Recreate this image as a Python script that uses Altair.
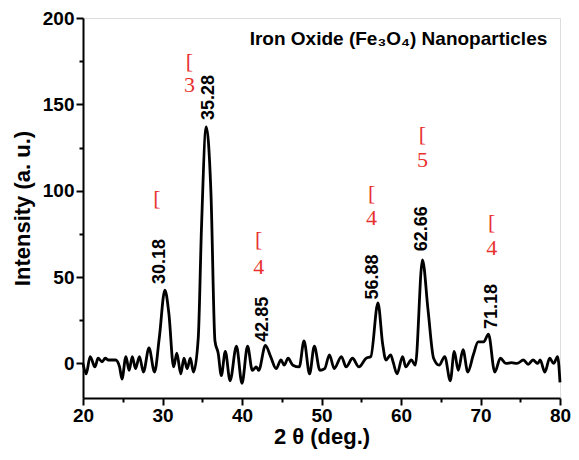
import altair as alt
import pandas as pd

# XRD pattern (2θ in degrees, intensity in a.u.)
two_theta = [20.0, 20.4, 20.9, 21.5, 21.9, 22.4, 22.8, 23.2, 24.1, 24.6, 24.9, 25.4, 25.8, 26.2,
             26.6, 27.1, 27.6, 28.3, 29.0, 29.6, 30.3, 30.8, 31.4, 31.8, 32.3, 32.7, 33.1, 33.5,
             33.9, 34.5, 34.9, 35.5, 36.1, 36.6, 37.0, 37.4, 37.9, 38.5, 39.3, 40.0, 40.7, 41.3,
             41.8, 42.1, 42.95, 43.6, 44.3, 44.9, 45.3, 45.8, 46.4, 47.2, 47.8, 48.5, 49.1, 49.8,
             50.4, 51.0, 51.6, 52.5, 53.1, 53.9, 54.7, 55.6, 56.2, 57.1, 57.7, 58.1, 58.7, 59.0,
             59.5, 60.2, 60.6, 61.3, 61.8, 62.7, 63.4, 64.1, 64.8, 65.5, 66.2, 66.7, 67.2, 67.8,
             68.4, 69.1, 69.7, 70.4, 71.0, 71.8, 72.5, 73.2, 73.9, 74.6, 75.4, 76.0, 76.6, 77.2,
             77.5, 78.1, 78.7, 79.2, 79.7, 80.0]
intensity = [0, -6, 4, -2, 3, 1, 3, 2, 2, -2, -9, 4, -4, 4,
             -3, 4, -5, 9, -5, 15, 42.5, 29, -2, 6, -6, 3, -3, 3,
             -5, 15, 78, 137, 98, 13, 6, -7, 7, -10, 10, -11.5, 10, -4,
             -2, -4, 10.5, 4, -3, 2, -1, 3, -1, -2, 13, -6, 10, -4,
             -3, 5, -3, 4, -2, 3, -2, 3, 4, 35, 11, 2, 5, 1,
             -6, 4, -2, 2, -1, 60, 31, 3, -1, 4, -10, 7, -4, 8,
             -5, 5, 12.5, 12.5, 17, -5, 3, 0, 0.5, 0, 2, -0.5, 2, 0,
             2, -5, 3, 0, 4, -11]

# peak position labels
peak_text = ["30.18", "35.28", "42.85", "56.88", "62.66", "71.18"]
peak_label_x = [29.7, 35.8, 42.6, 56.5, 62.7, 71.5]
peak_label_y = [46, 141, 12.5, 37, 65, 20]

# red Miller-index fragments
hkl_x = [29.3, 33.4, 42.1, 56.3, 62.7, 71.4]
bracket_y = [96, 175, 72, 98.5, 133, 82]
hkl_digit = ["", "3", "4", "4", "5", "4"]
digit_y = [82, 161, 56, 84, 118, 67]

title_text = "Iron Oxide (Fe\u2083O\u2084) Nanoparticles"
title_x = [78.4]
title_y = [188]

x_major = [20, 30, 40, 50, 60, 70, 80]
x_minor = [25, 35, 45, 55, 65, 75]
y_major = [0, 50, 100, 150, 200]
y_minor = [25, 75, 125, 175]

df = pd.DataFrame({"two_theta": two_theta, "intensity": intensity})
peaks = pd.DataFrame({"x": peak_label_x, "y": peak_label_y, "t": peak_text})
hkl = pd.DataFrame({"x": hkl_x, "yb": bracket_y, "yd": digit_y, "d": hkl_digit})
ttl = pd.DataFrame({"x": title_x, "y": title_y, "t": [title_text]})

xs = alt.Scale(domain=[20, 80], nice=False, zero=False)
ys = alt.Scale(domain=[-20, 200], nice=False, zero=False)

FONT = "Liberation Sans"

major_x_axis = alt.Axis(values=x_major, title="2 θ (deg.)", orient="bottom", grid=False,
                        tickSize=7, tickWidth=2, tickColor="black", domainColor="black",
                        domainWidth=2, labelFont=FONT, labelFontSize=19, labelFontWeight="bold",
                        labelColor="black", labelPadding=1, labelFlush=False,
                        titleFont=FONT, titleFontSize=22, titleFontWeight="bold",
                        titleColor="black", titlePadding=1, format="d")
major_y_axis = alt.Axis(values=y_major, title="Intensity (a. u.)", orient="left", grid=False,
                        tickSize=7, tickWidth=2, tickColor="black", domainColor="black",
                        domainWidth=2, labelFont=FONT, labelFontSize=19, labelFontWeight="bold",
                        labelColor="black", labelPadding=2, labelFlush=False,
                        titleFont=FONT, titleFontSize=22, titleFontWeight="bold",
                        titleColor="black", titlePadding=8, format="d")
minor_x_axis = alt.Axis(values=x_minor, title=None, orient="bottom", grid=False, labels=False,
                        tickSize=4, tickWidth=2, tickColor="black", domain=False)
minor_y_axis = alt.Axis(values=y_minor, title=None, orient="left", grid=False, labels=False,
                        tickSize=4, tickWidth=2, tickColor="black", domain=False)

line = alt.Chart(df).mark_line(color="black", strokeWidth=2.8, interpolate="monotone").encode(
    x=alt.X("two_theta:Q", scale=xs, axis=major_x_axis),
    y=alt.Y("intensity:Q", scale=ys, axis=major_y_axis),
)

minor = alt.Chart(df).mark_line(strokeOpacity=0).encode(
    x=alt.X("two_theta:Q", scale=xs, axis=minor_x_axis),
    y=alt.Y("intensity:Q", scale=ys, axis=minor_y_axis),
)

peak_txt = alt.Chart(peaks).mark_text(angle=270, align="left", baseline="middle", font=FONT,
                                      fontSize=18, fontWeight="bold", color="black").encode(
    x=alt.X("x:Q", scale=xs, axis=None),
    y=alt.Y("y:Q", scale=ys, axis=None),
    text="t:N",
)

brackets = alt.Chart(hkl).mark_text(align="center", baseline="middle", font="Liberation Serif",
                                    fontSize=22, color="#e8312f").encode(
    x=alt.X("x:Q", scale=xs, axis=None),
    y=alt.Y("yb:Q", scale=ys, axis=None),
    text=alt.value("["),
)

digits = alt.Chart(hkl).mark_text(align="center", baseline="middle", font="Liberation Serif",
                                  fontSize=22, color="#e8312f").encode(
    x=alt.X("x:Q", scale=xs, axis=None),
    y=alt.Y("yd:Q", scale=ys, axis=None),
    text="d:N",
)

title = alt.Chart(ttl).mark_text(align="right", baseline="middle", font=FONT, fontSize=19,
                                 fontWeight="bold", color="black").encode(
    x=alt.X("x:Q", scale=xs, axis=None),
    y=alt.Y("y:Q", scale=ys, axis=None),
    text="t:N",
)

chart = alt.layer(line, minor, peak_txt, brackets, digits, title).resolve_axis(
    x="independent", y="independent"
).properties(
    width=477, height=380,
    autosize=alt.AutoSizeParams(type="none"),
    padding={"left": 75, "top": 10, "right": 11, "bottom": 54},
).configure_view(stroke="black", strokeWidth=2).configure(background="white")

chart.save("out.html", embed_options={"renderer": "svg", "actions": False})
